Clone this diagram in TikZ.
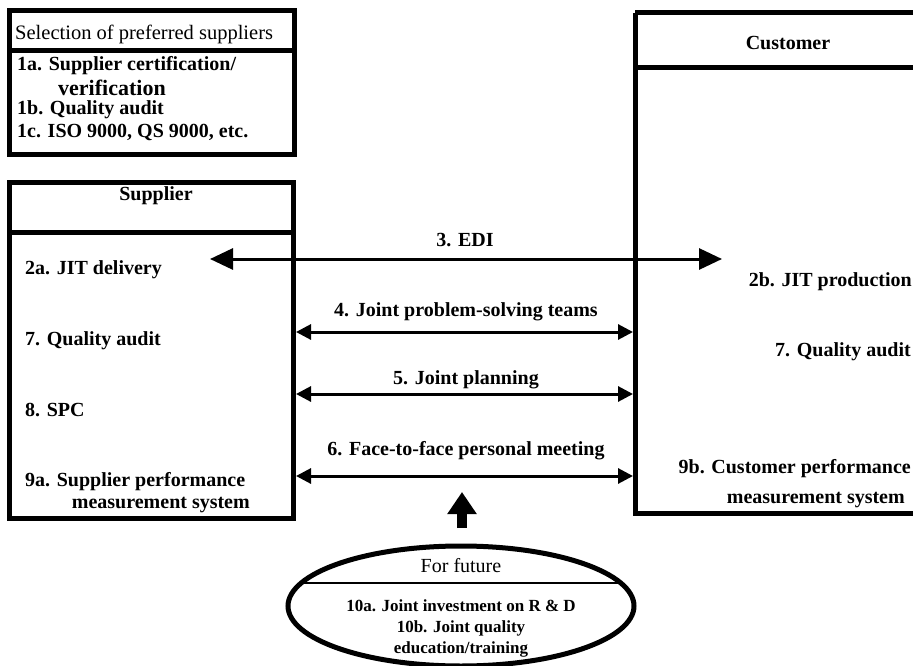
\documentclass[tikz,border=0pt]{standalone}
\usepackage{fontspec}
\setmainfont{Liberation Serif}
\usetikzlibrary{arrows.meta}
\begin{document}
\begin{tikzpicture}[x=1pt,y=-1pt,
  box/.style={line width=5pt},
  hdr/.style={font=\fontsize{20.5}{22}\selectfont, inner sep=0pt},
  hdrb/.style={font=\fontsize{20}{22}\selectfont\bfseries, inner sep=0pt},
  item/.style={font=\fontsize{20}{22}\selectfont\bfseries, inner sep=0pt},
  lbl/.style={font=\fontsize{20}{22}\selectfont\bfseries, inner sep=0pt},
  big/.style={line width=3pt, {Triangle[length=23pt,width=21pt]}-{Triangle[length=23pt,width=21pt]}},
  link/.style={line width=3pt, {Triangle[length=15pt,width=15pt]}-{Triangle[length=15pt,width=15pt]}}
]
\useasboundingbox (0,0) rectangle (913,666);
\fill[white] (0,0) rectangle (913,666);
\begin{scope}
\clip (0,0) rectangle (913,666);
% selection box
\draw[box] (9,11) rectangle (294,155);
\draw[box] (9,51) -- (294,51);
\node[hdr, anchor=west] (sel) at (15,34) {Selection of preferred suppliers};
\node[item, anchor=west] (s1a) at (17,66) {1a. Supplier certification/};
\node[inner sep=0pt, anchor=west, font=\fontsize{22}{24}\selectfont\bfseries] (s1a2) at (58,88) {verification};
\node[item, anchor=west] (s1b) at (17,110) {1b. Quality audit};
\node[item, anchor=west] (s1c) at (17,132) {1c. ISO 9000, QS 9000, etc.};
% customer box
\draw[box] (635,13) -- (930,13) (635,68) -- (930,68) (635,13) -- (635,513) -- (930,513);
\node[hdrb] (cust) at (788,43) {Customer};
\node[item, anchor=east] (c2b) at (912,282) {2b. JIT production};
\node[item, anchor=east] (c7) at (911,352) {7. Quality audit};
\node[item, anchor=east] (c9b) at (911,469) {9b. Customer performance};
\node[item, anchor=east] (c9b2) at (905,500) {measurement system};
% supplier box
\draw[box] (9,182) rectangle (293,518);
\draw[box] (9,232) -- (293,232);
\node[hdrb] (supp) at (156,196) {Supplier};
\node[item, anchor=west] (s2a) at (25,270) {2a. JIT delivery};
\node[item, anchor=west] (s7) at (25,341) {7. Quality audit};
\node[item, anchor=west] (s8) at (25,410) {8. SPC};
\node[item, anchor=west] (s9a) at (25,482) {9a. Supplier performance};
\node[item, anchor=east] (s9a2) at (250,505) {measurement system};
% connectors
\coordinate (e1) at (210,259); \coordinate (e2) at (722,259);
\draw[big] (e1) -- (e2);
\node[lbl] (l3) at (465,240) {3. EDI};
\coordinate (a1) at (296,332); \coordinate (a2) at (633,332);
\draw[link] (a1) -- (a2);
\node[lbl] (l4) at (466,312) {4. Joint problem-solving teams};
\coordinate (b1) at (296,394); \coordinate (b2) at (633,394);
\draw[link] (b1) -- (b2);
\node[lbl] (l5) at (466,380) {5. Joint planning};
\coordinate (d1) at (296,476); \coordinate (d2) at (633,476);
\draw[link] (d1) -- (d2);
\node[lbl] (l6) at (466,451) {6. Face-to-face personal meeting};
% future ellipse
\coordinate (fc) at (461,606);
\draw[line width=5pt] (fc) ellipse [x radius=173, y radius=60];
\begin{scope}
\clip (fc) ellipse [x radius=173, y radius=60];
\draw[line width=2.5pt] (280,583) -- (640,583);
\end{scope}
\node[hdr, font=\fontsize{20}{22}\selectfont] (fut) at (461,566) {For future};
\node[lbl, font=\fontsize{17}{21}\selectfont\bfseries, align=center] (f10) at (461,628) {10a. Joint investment on R \& D\\10b. Joint quality\\education/training};
\coordinate (up1) at (462,528); \coordinate (up2) at (462,492);
\draw[line width=10pt, -{Triangle[length=22pt,width=28pt]}] (up1) -- (up2);
\end{scope}
\end{tikzpicture}
\end{document}
